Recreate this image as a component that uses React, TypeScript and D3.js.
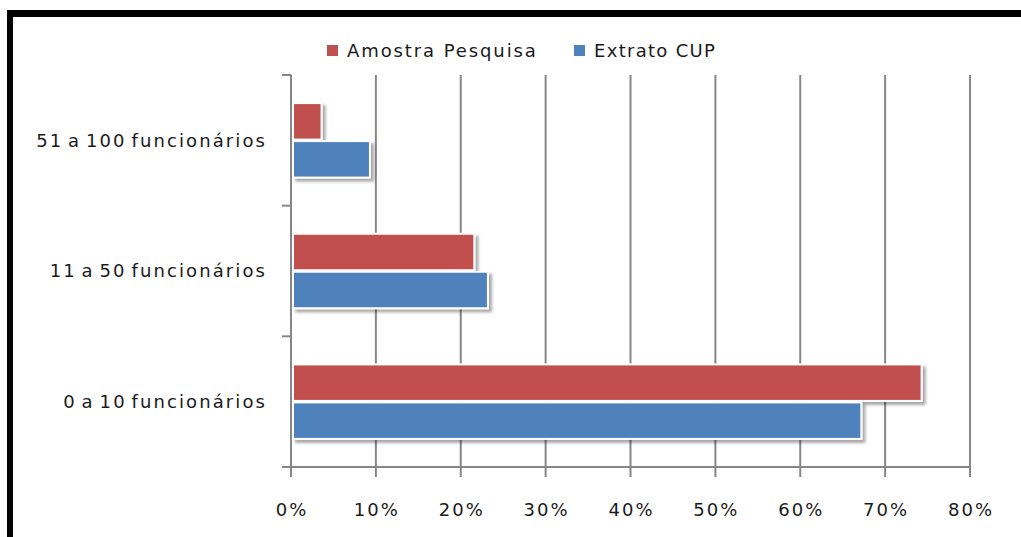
import React from "react";
import * as d3 from "d3";

const categories = ["51 a 100 funcionários", "11 a 50 funcionários", "0 a 10 funcionários"];
const seriesNames = ["Amostra Pesquisa", "Extrato CUP"];
const seriesColors = ["#C0504D", "#4F81BD"];
const amostra = [0.036, 0.216, 0.743];
const extrato = [0.093, 0.232, 0.672];
const xTicks = [0, 0.1, 0.2, 0.3, 0.4, 0.5, 0.6, 0.7, 0.8];

export default function App() {
  const W = 1021, H = 537;
  const left = 291, right = 970, top = 75, bottom = 467;
  const x = d3.scaleLinear().domain([0, 0.8]).range([left, right]);
  const y = d3.scaleBand().domain(categories).range([top, bottom]).paddingInner(0.43).paddingOuter(0.215);
  const inner = d3.scaleBand().domain(seriesNames).range([0, y.bandwidth()]).paddingInner(0.04);
  const values = [amostra, extrato];
  const font = "'DejaVu Sans', sans-serif";
  const catBounds = [top, ...categories.map((c, i) => top + ((bottom - top) / categories.length) * (i + 1))];

  return (
    <svg width={W} height={H} style={{ position: "fixed", left: 0, top: 0, background: "#fff" }} fontFamily={font}>
      <defs>
        <filter id="sh" x="-10%" y="-20%" width="130%" height="160%">
          <feGaussianBlur in="SourceAlpha" stdDeviation="1.8" />
          <feOffset dx="3" dy="3" result="b" />
          <feComponentTransfer><feFuncA type="linear" slope="0.35" /></feComponentTransfer>
          <feMerge><feMergeNode /><feMergeNode in="SourceGraphic" /></feMerge>
        </filter>
      </defs>
      <rect x={0} y={0} width={W} height={H} fill="#fff" />
      {/* black border top & left */}
      <rect x={7} y={10} width={W - 7} height={7} fill="#000" />
      <rect x={7} y={10} width={6} height={H - 10} fill="#000" />

      {/* gridlines */}
      {xTicks.map((t) => (
        <line key={t} x1={x(t)} x2={x(t)} y1={top} y2={bottom + 10} stroke="#868686" strokeWidth={2} />
      ))}
      {/* category axis ticks */}
      {catBounds.map((b, i) => (
        <line key={i} x1={left - 9} x2={left} y1={b} y2={b} stroke="#868686" strokeWidth={2} />
      ))}
      <line x1={left} x2={right} y1={bottom} y2={bottom} stroke="#868686" strokeWidth={2} />

      {/* bars */}
      {categories.map((c, ci) =>
        seriesNames.map((s, si) => (
          <rect
            key={c + s}
            x={x(0) + 2}
            y={(y(c) as number) + (inner(s) as number)}
            width={x(values[si][ci]) - x(0) - 2}
            height={inner.bandwidth()}
            fill={seriesColors[si]}
            stroke="#fff"
            strokeWidth={2}
            filter="url(#sh)"
          />
        ))
      )}

      {/* category labels */}
      {categories.map((c) => (
        <text key={c} x={267} y={(y(c) as number) + y.bandwidth() / 2} dy="0.35em" textAnchor="end" fontSize={18} letterSpacing={2.1} wordSpacing={-3} fill="#1a1a1a">
          {c}
        </text>
      ))}
      {/* x tick labels */}
      {xTicks.map((t) => (
        <text key={t} x={x(t) + 1} y={510} dy="0.35em" textAnchor="middle" fontSize={18} letterSpacing={2} fill="#1a1a1a">
          {d3.format(".0%")(t)}
        </text>
      ))}

      {/* legend */}
      <rect x={327} y={45} width={11} height={11} fill={seriesColors[0]} />
      <text x={347} y={51} dy="0.35em" fontSize={18} letterSpacing={1.9} fill="#1a1a1a">{seriesNames[0]}</text>
      <rect x={574} y={45} width={11} height={11} fill={seriesColors[1]} />
      <text x={594} y={51} dy="0.35em" fontSize={18} letterSpacing={1.3} fill="#1a1a1a">{seriesNames[1]}</text>
    </svg>
  );
}
